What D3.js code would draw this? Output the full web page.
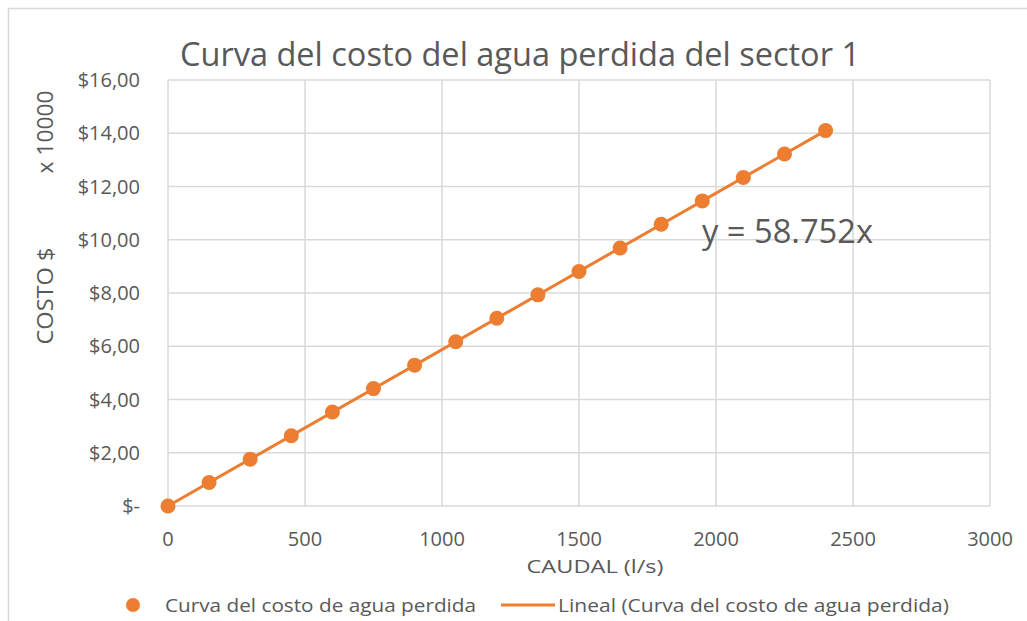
<!DOCTYPE html>
<html><head><meta charset="utf-8">
<script src="https://cdn.jsdelivr.net/npm/d3@7"></script>
<style>body{margin:0;background:#fff}svg{display:block}text{font-family:"Open Sans",sans-serif;fill:#595959}</style>
</head><body><svg id="c" width="1027" height="621"></svg>
<script>
const caudal = [0,150,300,450,600,750,900,1050,1200,1350,1500,1650,1800,1950,2100,2250,2400];
const costo = [0,0.88,1.76,2.64,3.53,4.41,5.29,6.17,7.05,7.93,8.81,9.69,10.58,11.46,12.34,13.22,14.10];
const trendX = [0,2400];
const trendY = [0,14.10];
const xTicks = [0,500,1000,1500,2000,2500,3000];
const yTicks = [0,2,4,6,8,10,12,14,16];
const yTickLabels = ["$-","$2,00","$4,00","$6,00","$8,00","$10,00","$12,00","$14,00","$16,00"];
const title = "Curva del costo del agua perdida del sector 1";
const xTitle = "CAUDAL (l/s)";
const yTitle = "COSTO $";
const yUnits = "x 10000";
const eqLabel = "y = 58.752x";
const legend1 = "Curva del costo de agua perdida";
const legend2 = "Lineal (Curva del costo de agua perdida)";
const orange = "#ED7D31";

const svg = d3.select("#c");
svg.append("rect").attr("x",8.5).attr("y",8.5).attr("width",1100).attr("height",700)
  .attr("fill","none").attr("stroke","#d9d9d9").attr("stroke-width",1.5);

const x = d3.scaleLinear().domain([0,3000]).range([168,990]);
const y = d3.scaleLinear().domain([0,16]).range([506,80]);

const g = svg.append("g");
g.selectAll(".vg").data(xTicks).join("line")
  .attr("x1",d=>x(d)).attr("x2",d=>x(d)).attr("y1",y(0)).attr("y2",y(16))
  .attr("stroke","#d9d9d9").attr("stroke-width",1.5);
g.selectAll(".hg").data(yTicks).join("line")
  .attr("x1",x(0)).attr("x2",x(3000)).attr("y1",d=>y(d)).attr("y2",d=>y(d))
  .attr("stroke","#d9d9d9").attr("stroke-width",1.5);

// y tick labels
g.selectAll(".yt").data(yTicks).join("text")
  .attr("x",140).attr("y",d=>y(d)).attr("dy","0.35em").attr("text-anchor","end")
  .attr("font-size",20).text((d,i)=>yTickLabels[i]);
// x tick labels
g.selectAll(".xt").data(xTicks).join("text")
  .attr("x",d=>x(d)).attr("y",546).attr("text-anchor","middle")
  .attr("font-size",20).text(d=>d);

// titles
svg.append("text").attr("x",520).attr("y",66).attr("text-anchor","middle")
  .attr("font-size",33).attr("textLength",680).attr("lengthAdjust","spacingAndGlyphs").text(title);
svg.append("text").attr("x",595).attr("y",573).attr("text-anchor","middle")
  .attr("font-size",19).attr("textLength",137).attr("lengthAdjust","spacingAndGlyphs").text(xTitle);
svg.append("text").attr("transform","translate(53,296) rotate(-90)").attr("text-anchor","middle")
  .attr("font-size",21).attr("textLength",97).attr("lengthAdjust","spacingAndGlyphs").text(yTitle);
svg.append("text").attr("transform","translate(53,132) rotate(-90)").attr("text-anchor","middle")
  .attr("font-size",21).attr("textLength",83).attr("lengthAdjust","spacingAndGlyphs").text(yUnits);

// trendline
const line = d3.line().x(d=>x(d[0])).y(d=>y(d[1]));
g.append("path").datum(trendX.map((v,i)=>[v,trendY[i]])).attr("d",line)
  .attr("fill","none").attr("stroke",orange).attr("stroke-width",3);
// points
g.selectAll(".pt").data(caudal.map((v,i)=>[v,costo[i]])).join("circle")
  .attr("cx",d=>x(d[0])).attr("cy",d=>y(d[1])).attr("r",7.5).attr("fill",orange);

// equation
svg.append("text").attr("x",702).attr("y",243).attr("font-size",33)
  .attr("textLength",171).attr("lengthAdjust","spacingAndGlyphs").text(eqLabel);

// legend
svg.append("circle").attr("cx",133).attr("cy",605).attr("r",7).attr("fill",orange);
svg.append("text").attr("x",165).attr("y",605).attr("dy","0.35em").attr("font-size",19)
  .attr("textLength",311).attr("lengthAdjust","spacingAndGlyphs").text(legend1);
svg.append("line").attr("x1",501).attr("x2",555).attr("y1",605).attr("y2",605)
  .attr("stroke",orange).attr("stroke-width",3);
svg.append("text").attr("x",558).attr("y",605).attr("dy","0.35em").attr("font-size",19)
  .attr("textLength",391).attr("lengthAdjust","spacingAndGlyphs").text(legend2);
</script></body></html>
